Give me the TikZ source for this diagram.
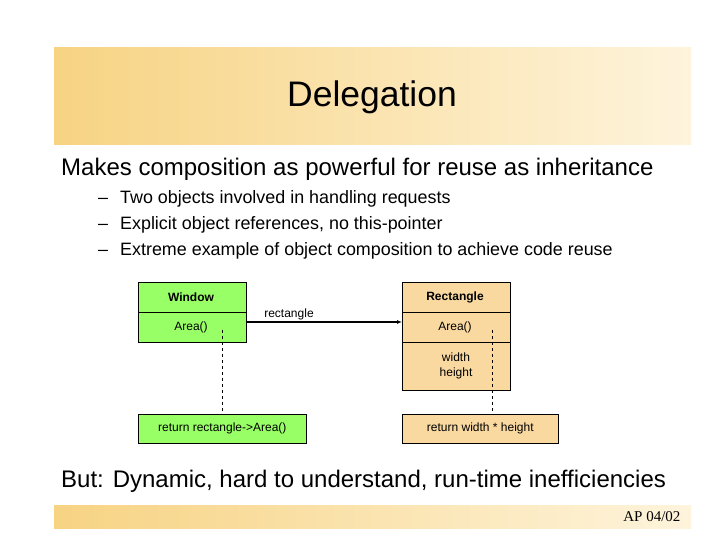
\documentclass[tikz,border=0pt]{standalone}
\usepackage{fontspec}
\setmainfont{Liberation Sans}
\newfontfamily\seriffont{Liberation Serif}
\usetikzlibrary{arrows.meta}
\definecolor{gr}{HTML}{99FF66}
\definecolor{orb}{HTML}{F9D9A0}
\definecolor{hl}{HTML}{F7D383}
\definecolor{hr}{HTML}{FEF4DC}
\tikzset{cls/.style={draw,line width=0.6pt},
  t/.style={font=\fontsize{12}{14}\selectfont,inner sep=0pt},
  dsh/.style={dashed,line width=0.6pt}}
\begin{document}
\begin{tikzpicture}[x=1pt,y=-1pt]
\useasboundingbox (0,0) rectangle (720,540);
\fill[white] (0,0) rectangle (720,540);
\shade[left color=hl,right color=hr] (54,48) rectangle (691,145);
\node[font=\fontsize{35.5}{40}\selectfont] (title) at (372,97) {Delegation};
\shade[left color=hl,right color=hr] (54,505) rectangle (691,528);
\node[font=\seriffont\fontsize{15}{17}\selectfont,anchor=east] (ft) at (684,517) {AP 04/02};
\node[font=\fontsize{24}{28}\selectfont,anchor=west,inner sep=0pt] (b1) at (61,169) {Makes composition as powerful for reuse as inheritance};
\node[font=\fontsize{17.9}{26}\selectfont,anchor=west,align=left,inner sep=0pt] (b2) at (98,225) {\hbox to 22pt{--\hfil}Two objects involved in handling requests\\
\hbox to 22pt{--\hfil}Explicit object references, no this-pointer\\
\hbox to 22pt{--\hfil}Extreme example of object composition to achieve code reuse};
\node[font=\fontsize{24}{28}\selectfont,anchor=west,inner sep=0pt] (b3) at (61,481) {But: Dynamic, hard to understand, run-time inefficiencies};
% Window
\draw[cls,fill=gr] (138,282) rectangle (246,342);
\draw (138,312) -- (246,312);
\node[t,font=\bfseries\fontsize{12}{14}\selectfont] (wn) at (191,297) {Window};
\node[t] (wa) at (191,327) {Area()};
\coordinate (wr) at (246,322);
% Rectangle
\draw[cls,fill=orb] (402,282) rectangle (510,390);
\draw (402,312) -- (510,312);
\draw (402,342) -- (510,342);
\node[t,font=\bfseries\fontsize{12}{14}\selectfont] (rn) at (455,297) {Rectangle};
\node[t] (ra) at (455,327) {Area()};
\node[t,align=center,font=\fontsize{12}{15.5}\selectfont] (rw) at (456,366) {width\\height};
\coordinate (rl) at (402,322);
\draw[line width=1.2pt,-{Latex[length=5pt,width=4pt]}] (wr) -- (rl);
\node[t] (lab) at (289,314) {rectangle};
% notes
\node[cls,fill=gr,minimum width=168pt,minimum height=29pt,inner sep=0pt,anchor=north west,t] (n1) at (138,414) {return rectangle->Area()};
\node[cls,fill=orb,minimum width=156pt,minimum height=29pt,inner sep=0pt,anchor=north west,t] (n2) at (402,414) {return width * height};
\coordinate (d1) at (222,330);
\coordinate (d2) at (492,330);
\draw[dsh] (d1) -- (d1 |- n1.north);
\draw[dsh] (d2) -- (d2 |- n2.north);
\end{tikzpicture}
\end{document}
